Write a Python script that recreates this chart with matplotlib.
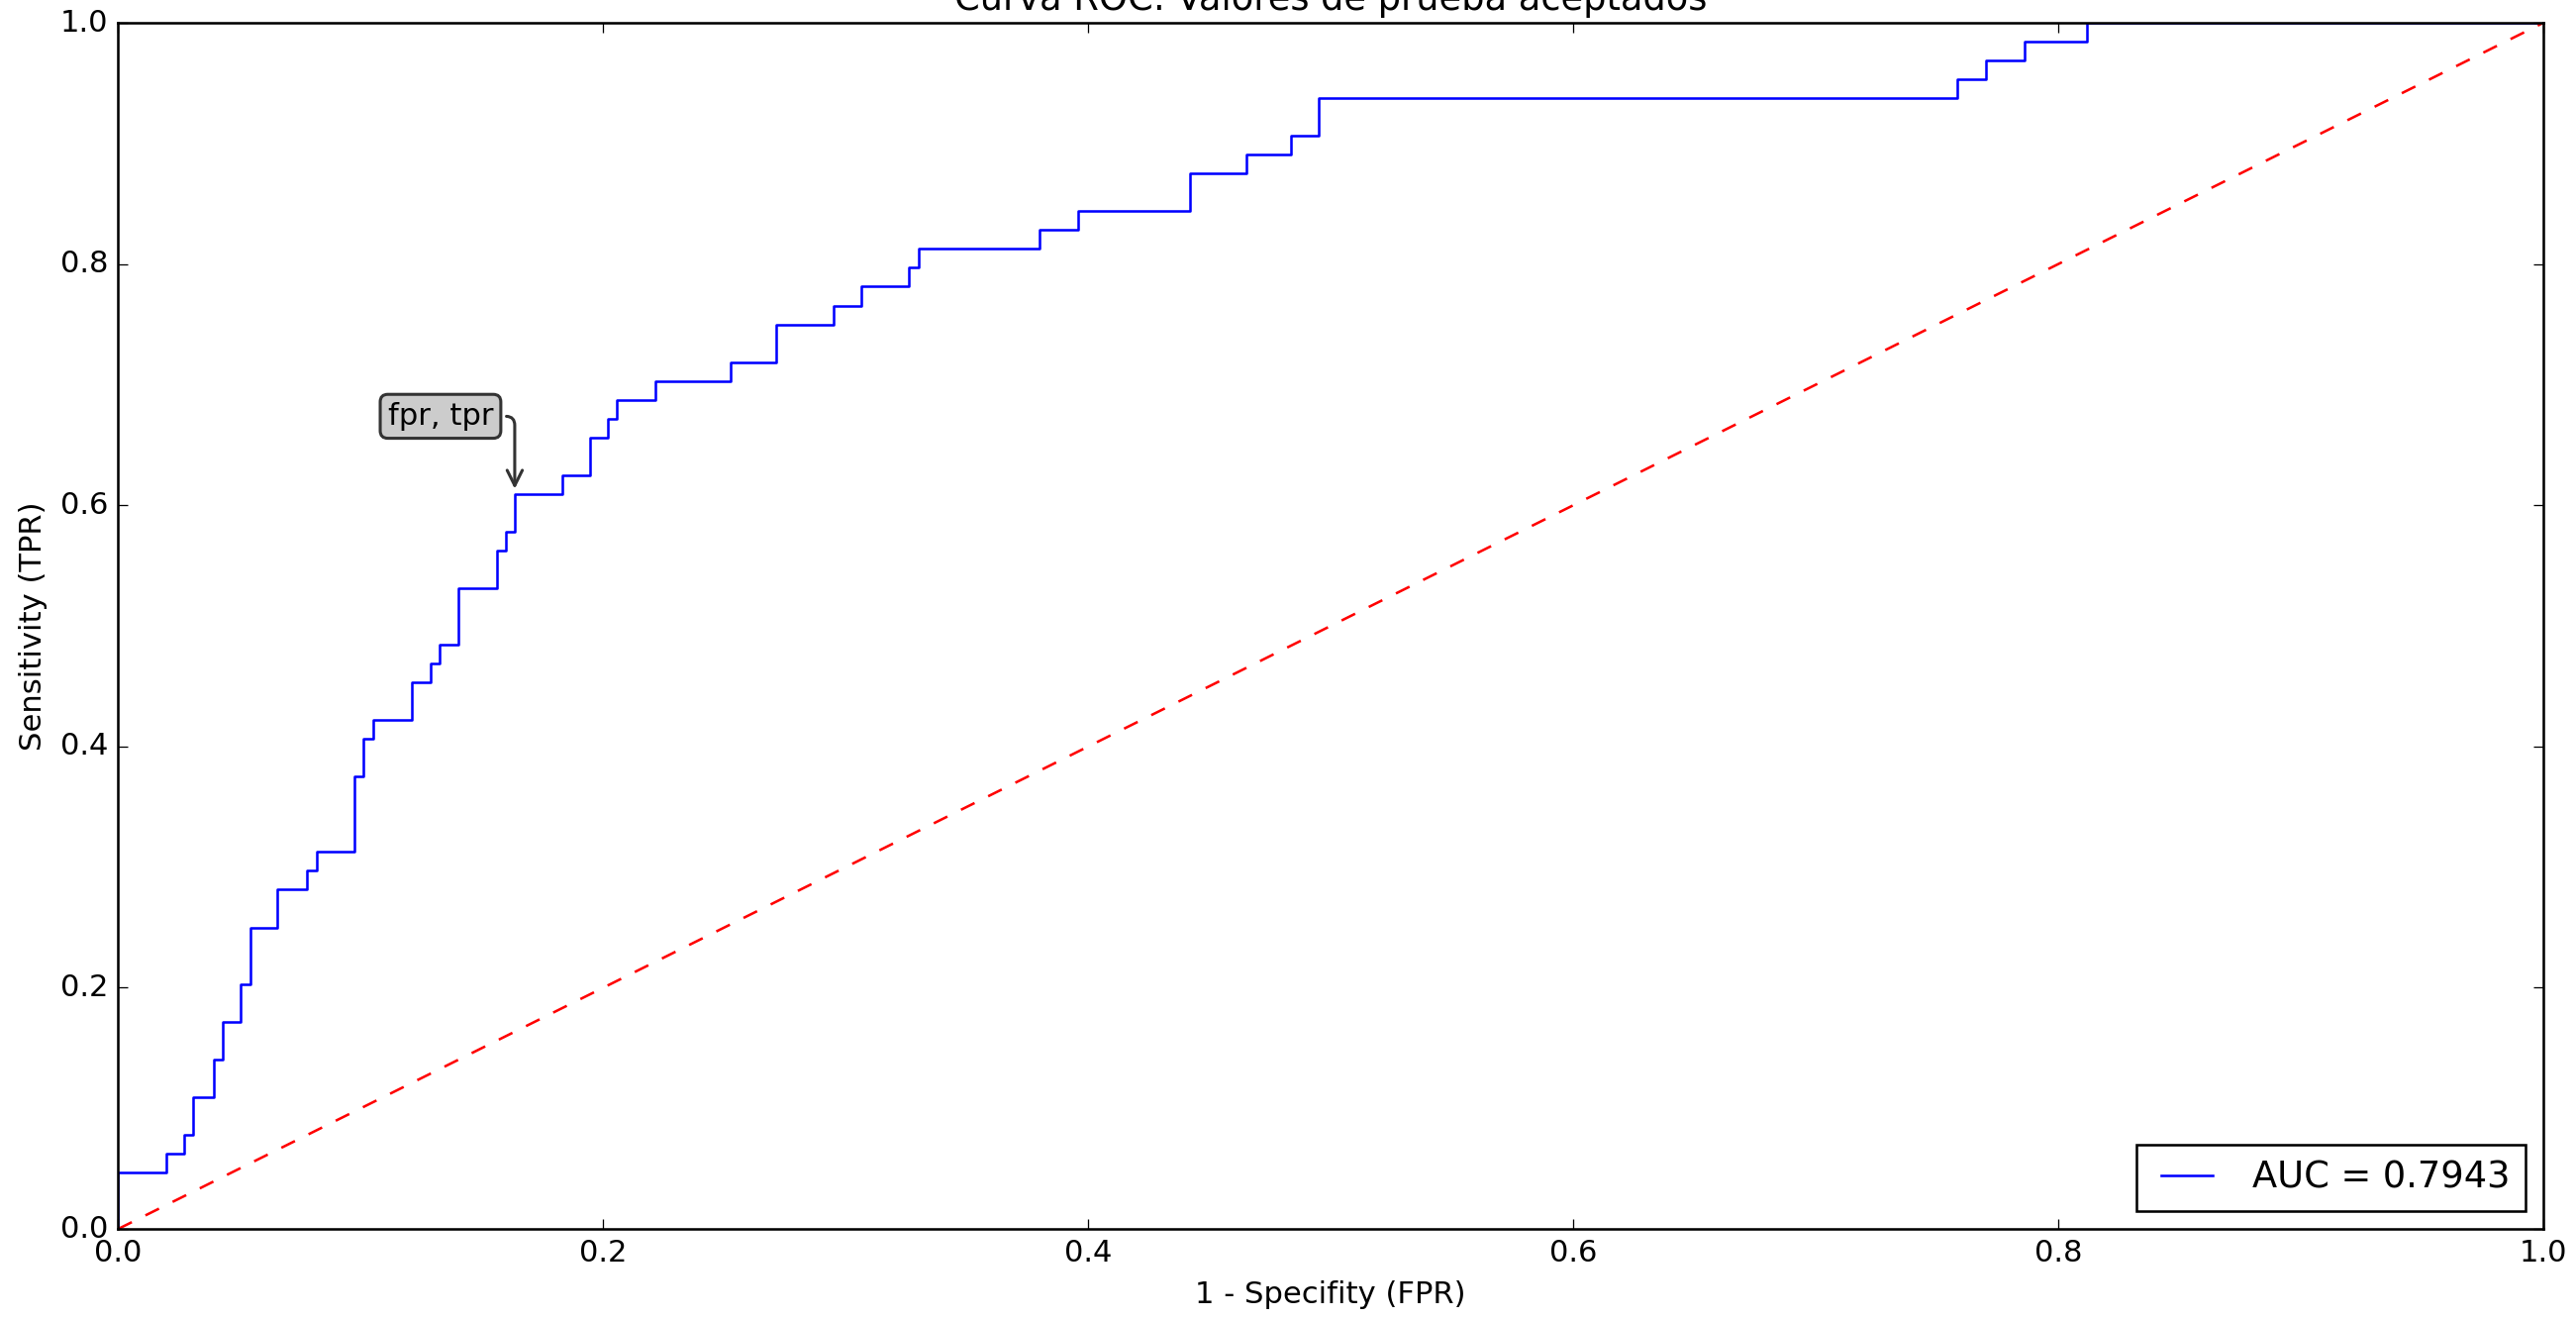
import matplotlib
matplotlib.use("Agg")
import matplotlib.pyplot as plt

# ROC curve: fpr where tpr jumps, tpr level after the jump
fpr = [0.0, 0.0, 0.0200, 0.0272, 0.0310, 0.0395, 0.0431, 0.0506, 0.0544,
       0.0657, 0.0780, 0.0817, 0.0972, 0.1010, 0.1050, 0.1211, 0.1288,
       0.1325, 0.1401, 0.1561, 0.1599, 0.1635, 0.1833, 0.1946, 0.2020,
       0.2057, 0.2216, 0.2527, 0.2715, 0.2950, 0.3065, 0.3262, 0.3299,
       0.3798, 0.3958, 0.4418, 0.4652, 0.4835, 0.4950, 0.7585, 0.7700,
       0.7860, 0.8117, 1.0]
tpr = [0.0, 0.0469, 0.0625, 0.0781, 0.1094, 0.1406, 0.1719, 0.2031, 0.2500,
       0.2813, 0.2969, 0.3125, 0.3750, 0.4063, 0.4219, 0.4531, 0.4688,
       0.4844, 0.5313, 0.5625, 0.5781, 0.6094, 0.6250, 0.6563, 0.6719,
       0.6875, 0.7031, 0.7188, 0.7500, 0.7656, 0.7813, 0.7969, 0.8125,
       0.8281, 0.8438, 0.8750, 0.8906, 0.9063, 0.9375, 0.9531, 0.9688,
       0.9844, 1.0, 1.0]
roc_auc = 0.7943

# point marked with the note
note_fpr = 0.1635
note_tpr = 0.6094

plt.style.use("classic")

dpi = 184
fig = plt.figure(figsize=(2602 / dpi, 1333 / dpi), dpi=dpi, facecolor="white")
ax = fig.add_axes([0.0459, 0.069, 0.9414, 0.9137])

ax.step(fpr, tpr, where="post", color="b", label="AUC = %0.4f" % roc_auc)
ax.plot([0, 1], [0, 1], "r--")

ax.annotate(
    "fpr, tpr",
    xy=(note_fpr, note_tpr),
    xytext=(-8.5, 25),
    textcoords="offset points",
    ha="right",
    va="bottom",
    bbox=dict(boxstyle="round,pad=0.25", fc="0.8", ec="0.2", lw=1.2),
    arrowprops=dict(arrowstyle="->,head_length=0.5,head_width=0.25",
                    color="0.2", lw=1.2,
                    connectionstyle="angle,angleA=0,angleB=90,rad=9"),
)

ax.set_xlim(0, 1)
ax.set_ylim(0, 1)
ax.set_title("Curva ROC: Valores de prueba aceptados")
ax.set_xlabel("1 - Specifity (FPR)")
ax.set_ylabel("Sensitivity (TPR)")
ax.legend(loc="lower right", fontsize="large")

fig.savefig("out.png", dpi=dpi, facecolor="white")
